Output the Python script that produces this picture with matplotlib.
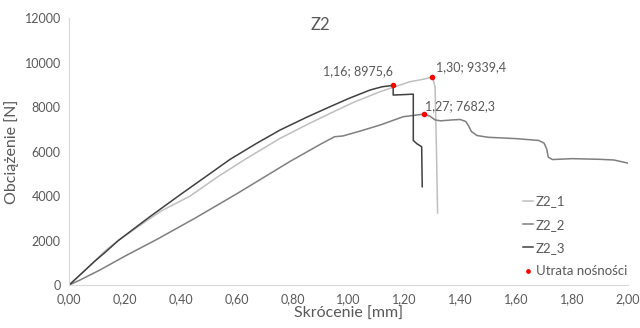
import numpy as np
import matplotlib.pyplot as plt

plt.rcParams['font.family'] = ['Lato', 'DejaVu Sans']

# Z2_1 (light)
x1 = [0.0, 0.06, 0.13, 0.176, 0.25, 0.33, 0.433, 0.53, 0.63, 0.755, 0.85, 0.934, 1.02, 1.113, 1.22, 1.26, 1.30,
      1.305, 1.31, 1.315, 1.319]
y1 = [0, 700, 1550, 2000, 2650, 3330, 4000, 4850, 5650, 6592, 7200, 7715, 8220, 8689, 9139, 9230, 9339.4,
      9150, 8900, 6000, 3236]
# Z2_2 (medium)
x2 = [0.0, 0.039, 0.11, 0.2, 0.314, 0.45, 0.6, 0.79, 0.9, 0.95, 0.98, 1.05, 1.113, 1.196, 1.27, 1.29, 1.31,
      1.33, 1.37, 1.40, 1.42, 1.43, 1.44, 1.46, 1.50, 1.60, 1.68, 1.70, 1.71, 1.715, 1.73, 1.80, 1.90, 1.95, 2.0]
y2 = [0, 225, 674, 1300, 2050, 3000, 4100, 5550, 6330, 6665, 6700, 6950, 7191, 7565, 7682.3, 7600, 7420,
      7380, 7420, 7440, 7350, 7150, 6900, 6720, 6640, 6580, 6500, 6380, 6100, 5750, 5640, 5680, 5650, 5620, 5480]
# Z2_3 (dark)
x3 = [0.0, 0.09, 0.13, 0.176, 0.29, 0.40, 0.49, 0.576, 0.67, 0.755, 0.85, 0.934, 1.0, 1.077, 1.12, 1.16,
      1.16, 1.20, 1.232, 1.232, 1.245, 1.262, 1.264]
y3 = [0, 1050, 1480, 2000, 3080, 4080, 4880, 5648, 6360, 6966, 7540, 8015, 8380, 8764, 8910, 8975.6,
      8539, 8560, 8580, 6500, 6350, 6216, 4418]

# utrata nośności
px = [1.16, 1.30, 1.27]
py = [8975.6, 9339.4, 7682.3]
plabels = ['1,16; 8975,6', '1,30; 9339,4', '1,27; 7682,3']

fig = plt.figure(figsize=(6.4, 3.28), dpi=100)
ax = fig.add_axes([0.108, 0.131, 0.873, 0.814])

ax.plot(x1, y1, color='#BFBFBF', lw=1.1, label='Z2_1')
ax.plot(x2, y2, color='#7F7F7F', lw=1.1, label='Z2_2')
ax.plot(x3, y3, color='#404040', lw=1.1, label='Z2_3')
ax.plot(px, py, 'o', color='#FF0000', ms=3, label='Utrata nośności')

txtc = '#595959'
ax.annotate(plabels[0], (px[0], py[0]), xytext=(0, 10.5), textcoords='offset points',
            ha='right', va='center', fontsize=9, color=txtc)
ax.annotate(plabels[1], (px[1], py[1]), xytext=(3, 7.5), textcoords='offset points',
            ha='left', va='center', fontsize=9, color=txtc)
ax.annotate(plabels[2], (px[2], py[2]), xytext=(1, 5.5), textcoords='offset points',
            ha='left', va='center', fontsize=9, color=txtc)

ax.set_xlim(0, 2.0)
ax.set_ylim(0, 12000)
xt = np.arange(0, 2.01, 0.2)
ax.set_xticks(xt)
ax.set_xticklabels([f'{v:.2f}'.replace('.', ',') for v in xt])
ax.set_yticks(np.arange(0, 12001, 2000))
ax.tick_params(length=0, labelsize=9, colors=txtc, pad=6)

for s in ['top', 'right']:
    ax.spines[s].set_visible(False)
for s in ['left', 'bottom']:
    ax.spines[s].set_color('#D9D9D9')

ax.set_xlabel('Skrócenie [mm]', fontsize=11.5, color=txtc, labelpad=1)
ax.set_ylabel('Obciążenie [N]', fontsize=11.5, color=txtc, labelpad=4)
fig.text(0.5, 0.925, 'Z2', ha='center', va='center', fontsize=12, color=txtc)

leg = ax.legend(loc='lower right', bbox_to_anchor=(1.02, -0.015), frameon=False, fontsize=9.5,
                handlelength=0.8, handletextpad=0.2, labelspacing=0.85, markerscale=0.8)
for t in leg.get_texts():
    t.set_color(txtc)

fig.savefig('out.png', dpi=100)
